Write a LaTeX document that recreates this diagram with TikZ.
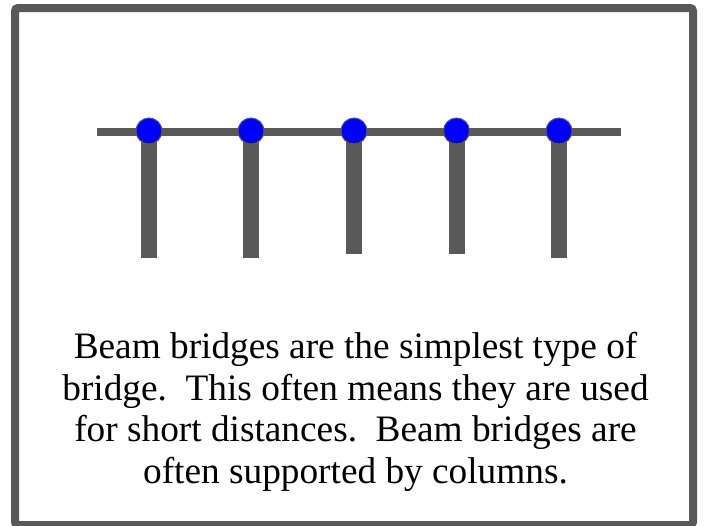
\documentclass[tikz,border=0pt]{standalone}
\usepackage{fontspec}
\setmainfont{Liberation Serif}
\definecolor{steel}{HTML}{595959}
\definecolor{joint}{HTML}{0000FF}
\tikzset{
  frame/.style={draw=steel, line width=8pt, rounded corners=3pt},
  deck/.style={draw=steel, line width=8pt},
  pier/.style={fill=steel, draw=none},
  pin/.style={circle, fill=joint, draw=steel, line width=1pt, minimum size=26pt, inner sep=0pt},
  caption/.style={anchor=base, inner sep=0pt, font=\fontsize{37.3}{42}\selectfont}
}
\begin{document}
\begin{tikzpicture}[x=1pt, y=-1pt]
  \useasboundingbox (0,0) rectangle (704,525);
  \clip (0,0) rectangle (704,525);

  % outer frame
  \draw[frame] (15,8) rectangle (693,525);

  % deck of the bridge
  \coordinate (deckL) at (97,132);
  \coordinate (deckR) at (621,132);
  \draw[deck] (deckL) -- (deckR);

  % piers
  \fill[pier] (141,132) rectangle (157,258);
  \fill[pier] (243,132) rectangle (259,258);
  \fill[pier] (346,132) rectangle (362,254);
  \fill[pier] (448.5,132) rectangle (464.5,254);
  \fill[pier] (551,132) rectangle (567,258);

  % joints where piers meet the deck
  \node[pin] (j1) at (149,131) {};
  \node[pin] (j2) at (251,131) {};
  \node[pin] (j3) at (354,131) {};
  \node[pin] (j4) at (456.5,131) {};
  \node[pin] (j5) at (559,131) {};

  % caption
  \node[caption] (t1) at (355.5,358) {Beam bridges are the simplest type of};
  \node[caption] (t2) at (355.5,400) {bridge.\ \ This often means they are used};
  \node[caption] (t3) at (355.5,441) {for short distances.\ \ Beam bridges are};
  \node[caption] (t4) at (355.5,483) {often supported by columns.};
\end{tikzpicture}
\end{document}
